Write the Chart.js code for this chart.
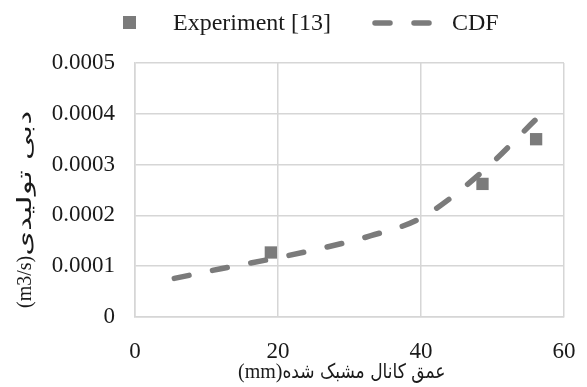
<!DOCTYPE html>
<html>
<head>
<meta charset="utf-8">
<script src="https://cdn.jsdelivr.net/npm/chart.js@4"></script>
<style>
  body { margin: 0; background: #fff; }
</style>
</head>
<body>
<canvas id="flowChart" width="587" height="387"></canvas>
<script>
// measured points, depth (mm) vs flow rate (m3/s)
const expDepth = [19.0, 48.6, 56.1];
const expFlow = [0.000127, 0.000262, 0.00035];

// simulated curve
const cdfDepth = [5.5, 12, 19, 26, 33, 40, 48.5, 56];
const cdfFlow = [0.000076, 0.000095, 0.000114, 0.000135, 0.00016, 0.000195, 0.000285, 0.000388];

const seriesNames = ['Experiment [13]', 'CDF'];
const xTitleUnit = '(mm)';
const xTitleText = 'عمق کانال مشبک شده';
const yTitleUnit = '(m3/s)';
const yTitleText = 'دبی تولیدی';

const serif = "'Liberation Serif', 'Times New Roman', serif";
const arabicFont = "'DejaVu Sans', sans-serif";
const gray = '#7b7b7b';
const gridGray = '#d6d6d6';
const textColor = '#1a1a1a';

const toPoints = (xs, ys) => xs.map((x, i) => ({ x: x, y: ys[i] }));

// unit in serif, then the persian words stretched to the given width
function drawTitle(ctx, unit, words, wordsWidth) {
  ctx.textAlign = 'left';
  ctx.textBaseline = 'alphabetic';
  ctx.font = '20px ' + serif;
  ctx.fillText(unit, 0, 0);
  const unitWidth = ctx.measureText(unit).width;
  ctx.font = '20px ' + arabicFont;
  const w = ctx.measureText(words).width;
  ctx.save();
  ctx.translate(unitWidth, 0);
  ctx.scale(wordsWidth / w, 1);
  ctx.fillText(words, 0, 0);
  ctx.restore();
}

// legend row above the plot and the two axis titles
const decorations = {
  id: 'decorations',
  afterDraw(chart) {
    const ctx = chart.ctx;
    const exp = chart.data.datasets[0];
    const cdf = chart.data.datasets[1];
    const y = 23;
    ctx.save();
    ctx.fillStyle = exp.backgroundColor;
    ctx.fillRect(123, y - 7, 13, 13);

    ctx.strokeStyle = cdf.borderColor;
    ctx.lineWidth = cdf.borderWidth;
    ctx.lineCap = 'round';
    ctx.setLineDash(cdf.borderDash);
    ctx.beginPath();
    ctx.moveTo(375, y);
    ctx.lineTo(430, y);
    ctx.stroke();
    ctx.setLineDash([]);

    ctx.font = '24px ' + serif;
    ctx.fillStyle = textColor;
    ctx.textAlign = 'left';
    ctx.textBaseline = 'middle';
    ctx.fillText(exp.label, 173, y + 1);
    ctx.fillText(cdf.label, 452, y + 1);
    ctx.restore();

    ctx.save();
    ctx.fillStyle = textColor;
    ctx.translate(238, 378);
    drawTitle(ctx, xTitleUnit, xTitleText, 163);
    ctx.restore();

    ctx.save();
    ctx.fillStyle = textColor;
    ctx.translate(31, 308);
    ctx.rotate(-Math.PI / 2);
    drawTitle(ctx, yTitleUnit, yTitleText, 145);
    ctx.restore();
  }
};

new Chart(document.getElementById('flowChart'), {
  type: 'scatter',
  data: {
    datasets: [{
      label: seriesNames[0],
      data: toPoints(expDepth, expFlow),
      pointStyle: 'rect',
      pointRadius: 8.7,
      pointBorderWidth: 0,
      backgroundColor: gray,
      borderColor: gray,
      showLine: false
    }, {
      label: seriesNames[1],
      data: toPoints(cdfDepth, cdfFlow),
      showLine: true,
      pointRadius: 0,
      borderColor: gray,
      backgroundColor: gray,
      borderWidth: 5.5,
      borderDash: [15, 24],
      borderCapStyle: 'round',
      cubicInterpolationMode: 'monotone'
    }]
  },
  options: {
    responsive: false,
    animation: false,
    layout: { padding: { top: 63, right: 23, left: 0, bottom: 0 } },
    plugins: {
      legend: { display: false },
      tooltip: { enabled: false }
    },
    scales: {
      x: {
        type: 'linear',
        min: 0,
        max: 60,
        afterFit(scale) {
          scale.height = 70;
          // the "60" label fits inside the right margin
          scale.paddingLeft = 0;
          scale.paddingRight = 0;
        },
        ticks: {
          stepSize: 20,
          padding: 21,
          color: textColor,
          font: { family: serif, size: 23 }
        },
        grid: { color: gridGray, lineWidth: 1.5, drawTicks: false },
        border: { color: gridGray, width: 1.5 }
      },
      y: {
        min: 0,
        max: 0.0005,
        afterFit(scale) { scale.width = 135; },
        ticks: {
          stepSize: 0.0001,
          padding: 20,
          color: textColor,
          font: { family: serif, size: 23 },
          callback: v => v === 0 ? '0' : v.toFixed(4)
        },
        grid: { color: gridGray, lineWidth: 1.5, drawTicks: false },
        border: { color: gridGray, width: 1.5 }
      }
    }
  },
  plugins: [decorations]
});
</script>
</body>
</html>
